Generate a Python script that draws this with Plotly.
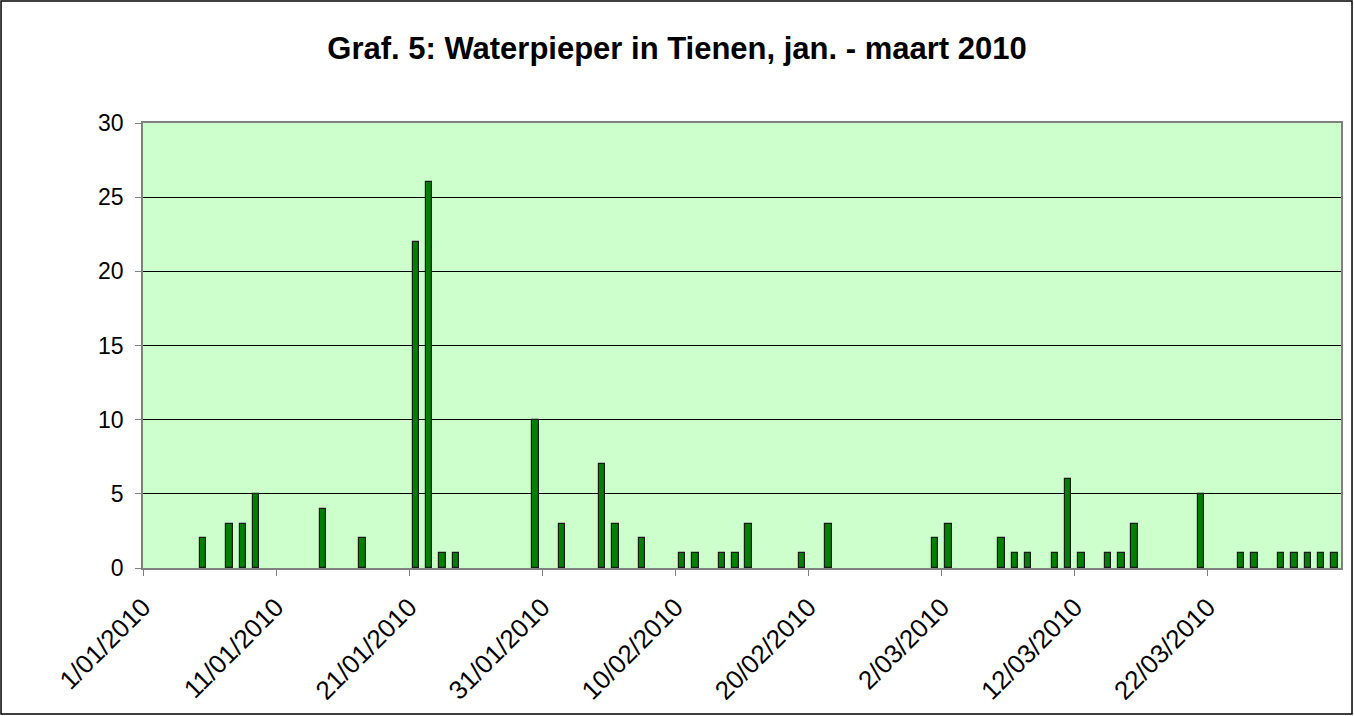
import plotly.graph_objects as go

dates = ["2010-01-05", "2010-01-07", "2010-01-08", "2010-01-09", "2010-01-14", "2010-01-17",
         "2010-01-21", "2010-01-22", "2010-01-23", "2010-01-24", "2010-01-30", "2010-02-01",
         "2010-02-04", "2010-02-05", "2010-02-07", "2010-02-10", "2010-02-11", "2010-02-13",
         "2010-02-14", "2010-02-15", "2010-02-19", "2010-02-21", "2010-03-01", "2010-03-02",
         "2010-03-06", "2010-03-07", "2010-03-08", "2010-03-10", "2010-03-11", "2010-03-12",
         "2010-03-14", "2010-03-15", "2010-03-16", "2010-03-21", "2010-03-24", "2010-03-25",
         "2010-03-27", "2010-03-28", "2010-03-29", "2010-03-30", "2010-03-31"]
counts = [2, 3, 3, 5, 4, 2,
          22, 26, 1, 1, 10, 3,
          7, 3, 2, 1, 1, 1,
          1, 3, 1, 3, 2, 3,
          2, 1, 1, 1, 6, 1,
          1, 1, 3, 5, 1, 1,
          1, 1, 1, 1, 1]

tick_dates = ["2010-01-01", "2010-01-11", "2010-01-21", "2010-01-31", "2010-02-10",
              "2010-02-20", "2010-03-02", "2010-03-12", "2010-03-22"]
tick_labels = ["1/01/2010", "11/01/2010", "21/01/2010", "31/01/2010", "10/02/2010",
               "20/02/2010", "2/03/2010", "12/03/2010", "22/03/2010"]

title = "Graf. 5: Waterpieper in Tienen, jan. - maart 2010"

# bars are centred in the middle of each day slot (Excel date axis)
x_mid = [d + " 12:00" for d in dates]
day_ms = 86400000

fig = go.Figure()
fig.add_trace(go.Bar(
    x=x_mid, y=counts,
    width=[0.48 * day_ms] * len(counts),
    marker=dict(color="#008000", line=dict(color="#1a1a1a", width=1.2)),
    showlegend=False,
))

font_family = "Arial, Liberation Sans, sans-serif"

fig.update_layout(
    width=1354, height=716,
    margin=dict(l=143, r=13, t=123, b=148),
    paper_bgcolor="#FFFFFF",
    plot_bgcolor="#CCFFCC",
    title=dict(text="<b>" + title + "</b>", x=0.5, xanchor="center", y=0.933, yanchor="middle",
               font=dict(family=font_family, size=31, color="#000000")),
    bargap=0,
    xaxis=dict(
        type="date",
        range=["2010-01-01", "2010-04-01"],
        tickmode="array", tickvals=tick_dates, ticktext=tick_labels,
        tickangle=-45,
        ticks="outside", ticklen=6, tickcolor="#808080",
        showline=True, linecolor="#808080", linewidth=1.5, mirror=True,
        showgrid=False, zeroline=False, automargin=False, ticklabelstandoff=6,
        tickfont=dict(family=font_family, size=26, color="#000000"),
    ),
    yaxis=dict(
        range=[0, 30], dtick=5,
        ticks="outside", ticklen=6, tickcolor="#808080",
        showline=True, linecolor="#808080", linewidth=1.5, mirror=True,
        showgrid=True, gridcolor="#000000", gridwidth=1,
        zeroline=False, automargin=False, ticklabelstandoff=7,
        tickfont=dict(family=font_family, size=23, color="#000000"),
    ),
    shapes=[dict(type="rect", xref="paper", yref="paper",
                 x0=-0.1185, x1=1.0092, y0=-0.328, y1=1.274,
                 line=dict(color="#000000", width=1.5), fillcolor="rgba(0,0,0,0)", layer="below")],
)

fig.write_html("out.html", config={"displayModeBar": False},
               post_script="document.body.style.margin='0';")
